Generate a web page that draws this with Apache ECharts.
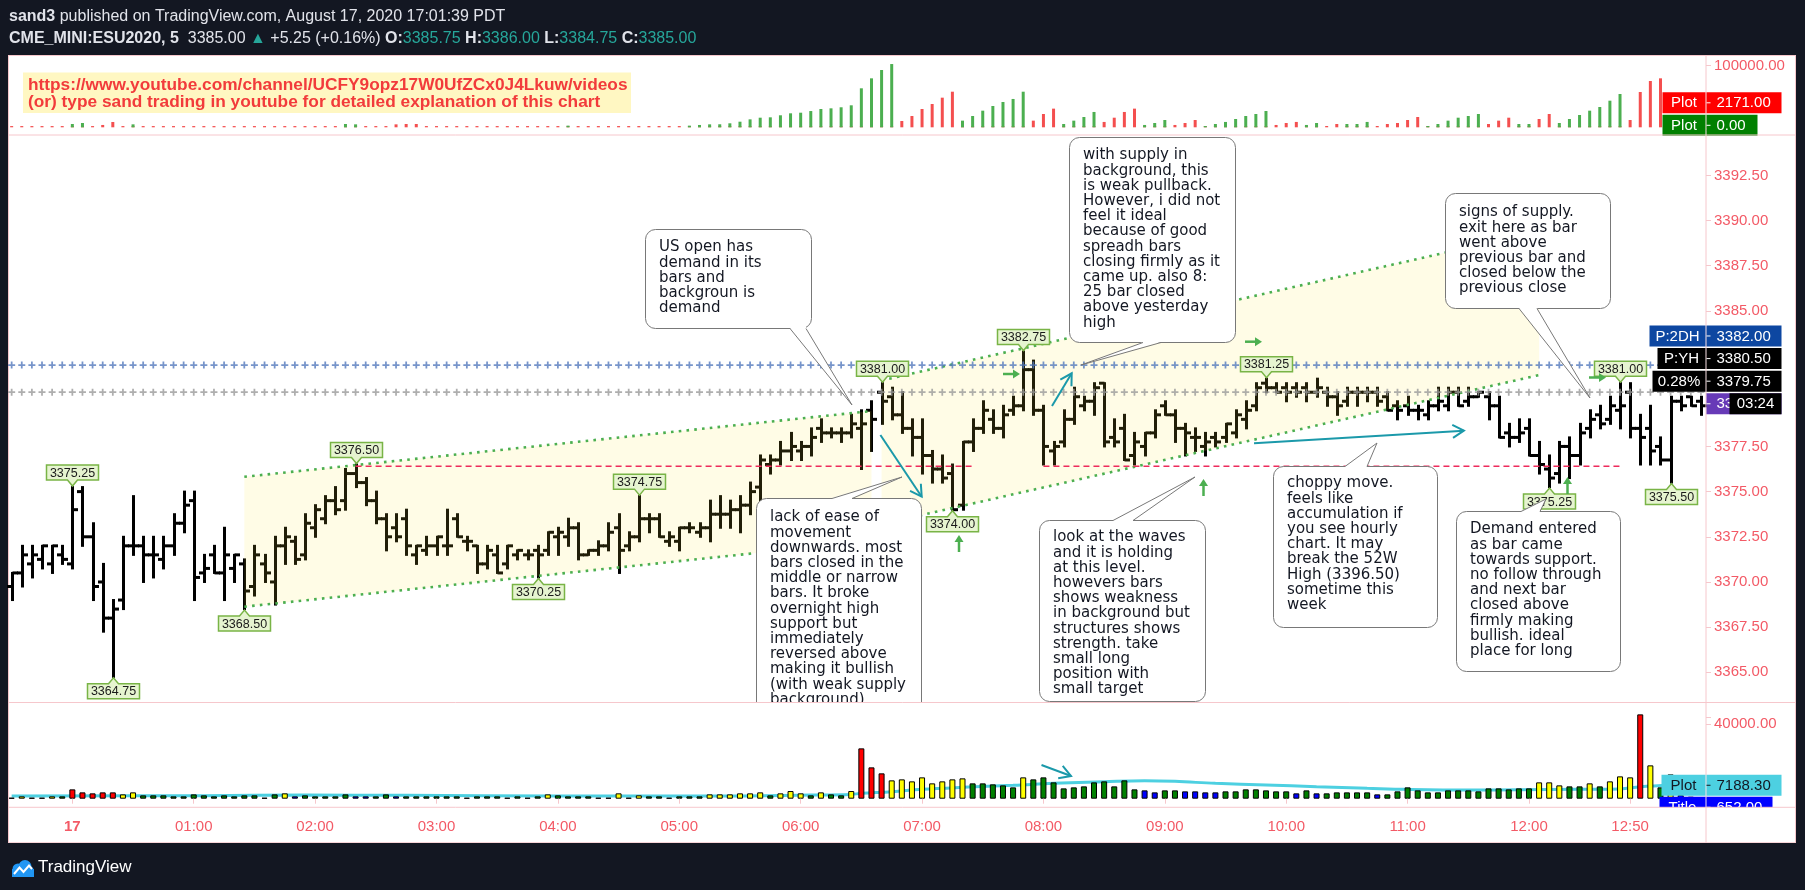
<!DOCTYPE html>
<html><head><meta charset="utf-8">
<script src="https://cdn.jsdelivr.net/npm/echarts@6/dist/echarts.min.js"></script>
<style>
html,body{margin:0;padding:0;background:#131722;overflow:hidden;}
#frame{position:absolute;left:8px;top:55px;width:1788px;height:788px;background:#fff;border:1px solid #f6c7cc;box-sizing:border-box;}
#c{position:absolute;left:0;top:0;width:1805px;height:890px;}
</style></head><body><div id="frame"></div><div id="c"></div>
<script>
// ---------------- DATA ----------------
const times = [
"23:30","23:35","23:40","23:45","23:50","23:55",
"00:00","00:05","00:10","00:15","00:20","00:25","00:30","00:35","00:40","00:45","00:50","00:55",
"01:00","01:05","01:10","01:15","01:20","01:25","01:30","01:35","01:40","01:45","01:50","01:55",
"02:00","02:05","02:10","02:15","02:20","02:25","02:30","02:35","02:40","02:45","02:50","02:55",
"03:00","03:05","03:10","03:15","03:20","03:25","03:30","03:35","03:40","03:45","03:50","03:55",
"04:00","04:05","04:10","04:15","04:20","04:25","04:30","04:35","04:40","04:45","04:50","04:55",
"05:00","05:05","05:10","05:15","05:20","05:25","05:30","05:35","05:40","05:45","05:50","05:55",
"06:00","06:05","06:10","06:15","06:20","06:25","06:30","06:35","06:40","06:45","06:50","06:55",
"07:00","07:05","07:10","07:15","07:20","07:25","07:30","07:35","07:40","07:45","07:50","07:55",
"08:00","08:05","08:10","08:15","08:20","08:25","08:30","08:35","08:40","08:45","08:50","08:55",
"09:00","09:05","09:10","09:15","09:20","09:25","09:30","09:35","09:40","09:45","09:50","09:55",
"10:00","10:05","10:10","10:15","10:20","10:25","10:30","10:35","10:40","10:45","10:50","10:55",
"11:00","11:05","11:10","11:15","11:20","11:25","11:30","11:35","11:40","11:45","11:50","11:55",
"12:00","12:05","12:10","12:15","12:20","12:25","12:30","12:35","12:40","12:45","12:50","12:55",
"13:00","13:05","13:10","13:15","13:20","13:25"];

const opens = [
3369.75,3370.5,3371.0,3371.25,3371.0,3371.5,3371.0,3375.0,3372.5,3370.0,
3368.0,3369.0,3372.0,3372.0,3371.5,3371.25,3372.0,3373.25,3374.5,3370.5,
3371.5,3370.5,3370.75,3371.0,3369.75,3371.0,3370.0,3372.0,3372.25,3371.5,
3373.0,3373.5,3374.5,3374.5,3376.0,3375.5,3374.5,3373.5,3373.0,3373.5,
3371.5,3371.75,3372.0,3372.0,3373.5,3372.25,3372.0,3371.0,3371.5,3371.0,
3371.5,3371.5,3371.75,3371.75,3372.5,3372.5,3373.0,3371.5,3371.75,3372.0,
3373.0,3372.0,3372.5,3373.5,3373.5,3372.25,3372.25,3373.0,3372.75,3373.0,
3373.75,3373.75,3374.0,3374.25,3375.25,3376.5,3376.75,3377.25,3377.25,3377.5,
3378.5,3378.25,3378.25,3378.25,3378.5,3379.5,3380.5,3380.25,3379.25,3378.5,
3378.0,3377.0,3376.25,3376.0,3374.25,3377.75,3378.5,3379.0,3378.5,3379.5,
3379.75,3381.75,3379.5,3377.25,3377.75,3379.0,3379.75,3380.0,3381.0,3378.0,
3378.5,3377.0,3377.5,3378.25,3379.75,3379.25,3378.5,3378.0,3377.5,3378.0,
3378.0,3378.25,3379.0,3379.75,3381.0,3380.75,3380.75,3380.75,3380.75,3380.5,
3380.5,3380.25,3380.0,3380.5,3380.5,3380.5,3380.25,3379.75,3379.75,3379.5,
3379.25,3379.75,3379.75,3380.5,3380.0,3380.25,3380.25,3379.75,3378.25,3378.0,
3378.5,3377.0,3376.25,3376.0,3377.5,3377.0,3378.5,3379.25,3379.0,3379.5,
3380.5,3378.5,3378.5,3377.5,3376.75,3380.0,3380.25,3380.0];

const highs = [
3370.5,3372.0,3372.0,3372.0,3372.0,3372.0,3375.25,3375.25,3373.25,3371.0,
3369.0,3372.5,3374.75,3372.5,3372.5,3372.5,3373.75,3375.0,3375.0,3371.5,
3372.0,3373.0,3371.5,3371.25,3372.0,3371.5,3372.5,3373.0,3372.5,3373.75,
3374.25,3374.75,3375.25,3376.25,3376.5,3375.75,3375.0,3373.75,3373.75,3374.0,
3372.0,3372.5,3372.5,3374.0,3373.75,3372.5,3372.0,3372.0,3372.0,3372.0,
3371.75,3371.75,3372.0,3372.75,3373.0,3373.5,3373.25,3371.75,3372.25,3373.25,
3373.75,3372.75,3374.75,3373.75,3373.75,3372.75,3373.0,3373.25,3373.25,3374.5,
3374.75,3374.5,3374.75,3375.5,3377.0,3377.0,3377.75,3378.25,3377.75,3378.5,
3379.0,3378.5,3378.5,3379.25,3379.5,3380.0,3381.0,3380.75,3380.5,3379.0,
3379.0,3377.25,3377.0,3376.5,3377.75,3379.0,3380.0,3379.5,3379.75,3380.25,
3382.75,3382.25,3379.75,3377.75,3379.5,3380.75,3380.25,3381.0,3381.0,3379.0,
3379.25,3378.25,3378.25,3379.5,3380.0,3379.5,3378.75,3378.5,3378.25,3378.25,
3378.75,3379.5,3380.0,3381.0,3381.25,3381.0,3381.0,3381.0,3381.0,3381.25,
3380.75,3380.5,3380.75,3380.75,3380.75,3380.75,3380.5,3380.0,3380.25,3379.75,
3380.0,3380.75,3380.75,3380.75,3380.75,3380.5,3380.5,3380.25,3378.75,3379.0,
3379.0,3377.75,3377.0,3377.75,3378.0,3378.75,3379.5,3379.75,3380.25,3381.0,
3381.0,3379.25,3379.75,3378.0,3380.25,3380.25,3380.25,3380.25];

const lows = [
3369.0,3369.75,3370.25,3370.75,3370.5,3371.0,3370.75,3372.0,3369.0,3367.25,
3364.75,3368.5,3371.5,3370.0,3370.25,3370.75,3371.5,3372.75,3369.0,3370.0,
3370.5,3369.0,3370.0,3368.5,3369.25,3370.0,3368.75,3371.0,3371.0,3371.25,
3372.5,3373.25,3373.75,3374.0,3375.25,3374.25,3373.25,3371.75,3372.25,3371.5,
3371.0,3371.5,3371.5,3371.5,3372.5,3371.75,3370.5,3370.75,3370.5,3370.75,
3371.25,3371.25,3370.25,3371.5,3371.5,3372.0,3371.25,3371.5,3371.5,3371.75,
3370.5,3371.75,3372.25,3372.75,3372.5,3372.0,3371.75,3372.75,3372.5,3372.25,
3373.0,3373.0,3372.75,3373.75,3374.25,3376.0,3376.5,3376.75,3376.75,3377.0,
3377.75,3378.0,3377.75,3378.0,3376.25,3377.25,3378.75,3379.0,3378.25,3377.0,
3376.0,3375.5,3375.5,3374.0,3374.0,3377.25,3378.25,3378.25,3378.0,3379.25,
3379.5,3379.25,3376.5,3376.5,3377.5,3378.75,3379.5,3379.25,3377.5,3377.5,
3376.75,3376.5,3377.0,3378.0,3379.25,3377.75,3377.0,3377.25,3377.0,3377.5,
3377.75,3378.0,3378.5,3379.5,3380.5,3380.5,3380.0,3380.25,3380.0,3380.25,
3379.75,3379.25,3379.75,3379.75,3380.0,3379.75,3379.5,3379.0,3379.25,3379.0,
3379.0,3379.5,3379.5,3379.75,3379.75,3380.25,3379.0,3378.0,3377.5,3377.75,
3377.0,3376.0,3375.25,3375.5,3375.75,3376.5,3378.0,3378.5,3378.75,3378.5,
3378.0,3376.5,3376.5,3376.5,3375.5,3379.5,3379.75,3379.25];

const closes = [
3370.5,3371.5,3371.5,3372.0,3372.0,3371.25,3374.0,3372.5,3369.75,3368.0,
3368.5,3372.0,3372.0,3371.5,3371.5,3372.0,3373.25,3374.25,3370.25,3370.75,
3370.5,3371.5,3371.5,3369.5,3371.5,3370.5,3372.0,3372.5,3371.25,3373.25,
3374.0,3374.5,3374.0,3376.0,3375.5,3374.5,3373.5,3372.5,3372.5,3372.0,
3372.0,3372.0,3372.5,3372.0,3372.5,3372.25,3371.0,3371.75,3370.5,3372.0,
3371.75,3371.5,3371.5,3372.75,3372.75,3373.0,3371.5,3371.75,3372.0,3372.75,
3371.75,3372.5,3373.5,3373.5,3372.5,3372.5,3373.0,3373.0,3373.0,3373.75,
3373.75,3374.0,3374.25,3375.0,3376.75,3376.75,3377.25,3377.5,3377.5,3378.0,
3378.25,3378.25,3378.25,3378.75,3378.75,3379.0,3380.0,3379.25,3378.5,3378.0,
3377.0,3376.25,3375.75,3374.0,3377.75,3378.5,3379.5,3378.5,3379.25,3379.75,
3381.75,3379.5,3377.5,3377.5,3379.0,3380.25,3380.0,3380.75,3377.75,3377.75,
3376.75,3377.75,3378.25,3379.25,3379.25,3378.5,3378.25,3378.0,3377.75,3377.75,
3378.75,3379.25,3379.5,3380.75,3380.75,3380.5,3380.5,3380.5,3380.5,3380.75,
3380.25,3379.75,3380.5,3380.5,3380.5,3380.0,3379.5,3379.5,3379.5,3379.5,
3379.75,3380.0,3380.5,3379.75,3380.25,3380.5,3379.75,3378.0,3378.0,3378.25,
3377.0,3376.5,3375.75,3377.5,3377.0,3378.25,3379.0,3378.75,3379.75,3379.75,
3378.5,3378.0,3377.25,3376.75,3380.0,3379.75,3379.75,3379.75];

const volumes = [
500,1250,500,500,1250,1250,5000,3390,2860,3390,
3390,2320,3390,1790,1790,1790,1250,1250,2320,1790,
1250,1790,1250,1790,1790,500,2320,2860,1250,1790,
1250,1250,1250,2320,1250,1250,1250,2320,1250,1250,
1250,1250,1250,1250,1250,500,1250,1250,1250,500,
1250,500,1250,2320,1790,1250,1250,1250,500,500,
2860,500,1790,1250,1250,500,1250,1250,1250,2320,
2320,2320,2860,2860,3390,1790,2860,4100,2860,1790,
3390,2320,1790,4100,26950,16780,13570,9820,10350,9280,
11420,8210,9280,10350,10890,8210,8210,7680,7140,6070,
11420,10350,11420,8750,5530,6070,6600,8750,9280,6600,
9820,5000,4460,3390,4460,4460,3930,3930,3390,3390,
3930,3930,5000,5000,4460,3930,3930,2860,4460,2860,
2860,3390,3390,3390,3390,2320,2320,3930,6070,4460,
3390,3390,4460,4460,4460,3930,5530,5530,5000,5530,
5530,8750,8750,7140,6600,6600,8210,6600,9280,11960,
11420,45160,17850,6070,13030,1960,1070,652];

const volumeColorCodes = [
"G","Y","G","G","Y","G","R","R","R","R",
"R","Y","Y","G","G","G","G","G","G","G",
"G","G","G","G","G","G","G","Y","B","G",
"G","G","G","G","B","B","G","G","B","G",
"G","G","G","G","G","G","G","G","G","G",
"G","G","G","Y","G","G","G","G","G","G",
"Y","G","Y","G","G","G","G","G","G","Y",
"Y","Y","Y","Y","Y","G","Y","Y","Y","G",
"Y","G","G","Y","R","R","R","Y","Y","Y",
"Y","Y","Y","Y","Y","G","G","G","G","G",
"Y","G","G","G","G","G","G","G","G","G",
"G","G","B","B","G","G","B","B","B","B",
"G","G","G","G","G","G","G","B","G","B",
"G","G","G","G","G","B","G","G","G","G",
"G","G","G","G","G","G","G","G","G","G",
"G","Y","Y","Y","G","G","Y","G","Y","Y",
"Y","R","Y","G","Y","B","B","B"];

// volume moving-average plot, read at points along the line: [bar index, value]
const volumeAvgPoints = [
[0,1500],[19,1600],[29,1950],[39,1800],[54,1500],[69,1500],[79,1950],[83,2300],[84,2860],
[87,3750],[90,5000],[94,6070],[99,7140],[103,8210],[108,9100],[112,9640],[115,9300],
[119,8210],[124,7320],[129,6430],[134,5600],[138,5000],[144,4640],[149,4800],[155,5000],
[159,5200],[161,6400],[164,7188.3]];

// top indicator panel: green plot and red plot
const topGreen = [
0,0,0,0,0,0,5360,7000,0,0,
0,0,4800,0,0,0,0,0,0,0,
0,0,0,0,0,0,0,0,0,0,
0,0,0,5360,4800,0,0,0,0,0,
0,0,0,0,0,0,0,0,0,0,
0,0,0,0,0,2700,0,0,0,0,
0,0,0,0,0,0,0,2700,3790,4800,
4900,6490,9100,12900,15600,16200,19500,22700,23700,26400,
29700,30800,32500,35700,63300,79500,93000,102700,0,0,
0,0,0,0,10800,18300,27000,34600,41100,46000,
57800,0,0,0,5400,10800,16700,24900,0,0,
0,0,3800,7000,11900,0,0,0,2100,5400,
8700,13500,18300,21600,26500,0,0,0,3800,7000,
0,0,5400,5400,8700,0,0,0,0,0,
2100,5400,10800,15600,18300,21600,0,0,0,5400,
5400,0,0,7000,13500,20000,27000,33000,43200,54100,
0,0,0,0,0,0,0,0];

const topRed = [
2000,2000,2000,2000,2000,2000,2000,2000,2000,3790,
8600,2000,2000,2000,2000,2000,2000,2000,2000,2000,
2000,2000,2000,2000,2000,2000,2000,2000,2000,2000,
2000,2000,2000,2000,2000,2000,2000,2000,4800,5360,
5360,2000,2000,2000,2000,2000,2000,2000,2000,2000,
2000,2000,2000,2000,2000,2000,2000,2000,2000,2000,
2000,2000,2000,2000,2000,2000,2000,2000,2000,2000,
2000,2000,2000,2000,2000,2000,2000,2000,2000,2000,
2000,2000,2000,2000,2000,2000,2000,2000,10200,18300,
29700,37800,48100,57800,2000,2000,2000,2000,2000,2000,
2000,10800,21600,30300,2000,2000,2000,2000,8700,15600,
24900,30300,2000,2000,2000,3800,7000,11900,2000,2000,
2000,2000,2000,2000,2000,3800,7000,8700,2000,2000,
2100,5400,2000,2000,2000,2100,5400,7000,11900,16700,
2000,2000,2000,2000,2000,2000,5400,10800,15600,2000,
2000,13500,21600,2000,2000,2000,2000,2000,2000,2000,
11900,57300,75200,79500,2000,2000,2000,2171];

// pivot labels: [bar index, price, +1 above high / -1 below low]
const pivots = [
[6,3375.25,1],[10,3364.75,-1],[23,3368.50,-1],[34,3376.50,1],[52,3370.25,-1],
[62,3374.75,1],[86,3381.00,1],[93,3374.00,-1],[100,3382.75,1],[124,3381.25,1],
[152,3375.25,-1],[159,3381.00,1],[164,3375.50,-1]];

// parallel channels: [startIdx, upperStart, lowerStart, endIdx, upperEnd, lowerEnd]
const channel1 = [23, 3375.82, 3368.63, 85, 3379.46, 3372.27];
const channel2 = [86, 3381.15, 3373.20, 151, 3389.40, 3381.45];

// horizontal levels
const level2DH = 3382.00;
const levelYH = 3380.50;
const lastPrice = 3379.75;
const redLine1 = [[34, 3376.4], [95, 3376.4]];
const redLine2 = [[102, 3376.4], [159, 3376.4]];
const yAxisTicks = ["3392.50","3390.00","3387.50","3385.00","3382.50","3380.00","3377.50","3375.00","3372.50","3370.00","3367.50","3365.00"];

// ---------------- CHART ----------------
const AX_RED = '#f35a66';
const PINK = '#f6c7cc';
const TEAL = '#1b99aa';
const GREEN_ARROW = '#4caf50';
const colorMap = {G:'#008000', Y:'#ffff00', R:'#ff0000', B:'#0000ff'};

const chart = echarts.init(document.getElementById('c'), null, {width:1805, height:890});

const ohlcData = times.map((t, i) => [i, opens[i], highs[i], lows[i], closes[i]]);
const volData = volumes.map((v, i) => ({value: v, itemStyle: {color: colorMap[volumeColorCodes[i]], borderColor: '#000', borderWidth: 1}}));

function renderOHLC(params, api) {
  const i = api.value(0);
  const pO = api.coord([i, api.value(1)]);
  const pH = api.coord([i, api.value(2)]);
  const pL = api.coord([i, api.value(3)]);
  const pC = api.coord([i, api.value(4)]);
  const x = Math.round(pH[0]) + 0.5;
  const st = {stroke: '#000', lineWidth: 3};
  return {type: 'group', children: [
    {type: 'line', shape: {x1: x, y1: pH[1] - 1, x2: x, y2: pL[1] + 1}, style: st},
    {type: 'line', shape: {x1: x - 5.5, y1: pO[1], x2: x, y2: pO[1]}, style: st},
    {type: 'line', shape: {x1: x, y1: pC[1], x2: x + 5.5, y2: pC[1]}, style: st}
  ]};
}

function renderChannel(params, api) {
  const a = api.coord([api.value(0), api.value(1)]);
  const b = api.coord([api.value(0), api.value(2)]);
  const c = api.coord([api.value(3), api.value(4)]);
  const d = api.coord([api.value(3), api.value(5)]);
  const dot = {stroke: '#4caf50', lineWidth: 2.6, lineDash: [2.6, 5.2], fill: null};
  return {type: 'group', children: [
    {type: 'polygon', shape: {points: [a, c, d, b]}, style: {fill: 'rgba(255,235,59,0.13)'}},
    {type: 'line', shape: {x1: a[0], y1: a[1], x2: c[0], y2: c[1]}, style: dot},
    {type: 'line', shape: {x1: b[0], y1: b[1], x2: d[0], y2: d[1]}, style: dot}
  ]};
}

function renderPivot(params, api) {
  const p = api.value(1), dir = api.value(2);
  const pt = api.coord([api.value(0), p]);
  const x = Math.round(pt[0]) + 0.5, y = pt[1];
  const w = 52, h = 15, t = 6;
  let pts, boxY;
  if (dir > 0) {
    const tip = y - 1, base = tip - t; boxY = base - h;
    pts = [[x - w/2, boxY], [x + w/2, boxY], [x + w/2, base], [x + 5, base], [x, tip], [x - 5, base], [x - w/2, base]];
  } else {
    const tip = y + 1, base = tip + t; boxY = base;
    pts = [[x - w/2, base], [x - 5, base], [x, tip], [x + 5, base], [x + w/2, base], [x + w/2, base + h], [x - w/2, base + h]];
  }
  return {type: 'group', children: [
    {type: 'polygon', shape: {points: pts}, style: {fill: '#e6f4d0', stroke: '#79b446', lineWidth: 1.5}},
    {type: 'text', x: x, y: boxY + h/2 + 0.5, style: {text: p.toFixed(2), fill: '#1a1a1a', font: '12.5px "Liberation Sans"', textAlign: 'center', textVerticalAlign: 'middle', align: 'center', verticalAlign: 'middle'}}
  ]};
}

const showTime = (i, v) => v.slice(3) === '00' || v === '12:50';
const fmtTime = v => v === '00:00' ? '{b|17}' : v;

const xBase = {type: 'category', data: times, boundaryGap: true};
const yLabel = {color: AX_RED, fontSize: 15, fontFamily: 'Liberation Sans', margin: 8};

const option = {
  animation: false,
  backgroundColor: 'transparent',
  grid: [
    {left: 6.6, right: 99, top: 65.7, height: 61.6},
    {left: 6.6, right: 99, top: 130.2, height: 587.3},
    {left: 6.6, right: 99, top: 724, height: 74.7}
  ],
  xAxis: [
    Object.assign({}, xBase, {gridIndex: 0, show: false}),
    Object.assign({}, xBase, {gridIndex: 1, show: false}),
    Object.assign({}, xBase, {gridIndex: 2, z: 50, offset: 8.6,
      axisLine: {show: false},
      axisTick: {show: true, interval: showTime, alignWithLabel: true, length: 5, lineStyle: {color: PINK}},
      axisLabel: {interval: showTime, formatter: fmtTime, margin: 12, color: AX_RED, fontSize: 15, fontFamily: 'Liberation Sans',
        rich: {b: {fontWeight: 'bold', fontSize: 15, fontFamily: 'Liberation Sans', color: AX_RED}}},
      splitLine: {show: false}})
  ],
  yAxis: [
    {type: 'value', gridIndex: 0, position: 'right', min: 0, max: 100000, interval: 100000, z: 30,
      axisLine: {show: false}, splitLine: {show: false}, axisTick: {show: true, length: 5, lineStyle: {color: PINK}},
      axisLabel: Object.assign({}, yLabel, {formatter: v => v === 100000 ? '100000.00' : ''})},
    {type: 'value', gridIndex: 1, position: 'right', min: 3362.5, max: 3395, interval: 2.5, z: 30,
      axisLine: {show: false}, splitLine: {show: false}, axisTick: {show: true, length: 5, lineStyle: {color: PINK}},
      axisLabel: Object.assign({}, yLabel, {formatter: v => yAxisTicks.indexOf(v.toFixed(2)) >= 0 ? v.toFixed(2) : ''})},
    {type: 'value', gridIndex: 2, position: 'right', min: 0, max: 40000, interval: 40000, z: 30,
      axisLine: {show: false}, splitLine: {show: false}, axisTick: {show: true, length: 5, lineStyle: {color: PINK}},
      axisLabel: Object.assign({}, yLabel, {formatter: v => v === 40000 ? '40000.00' : ''})}
  ],
  series: [
    {type: 'bar', xAxisIndex: 0, yAxisIndex: 0, data: topRed, barWidth: 3, barGap: '-100%', clip: false, silent: true, z: 2, itemStyle: {color: '#f44f4f'}},
    {type: 'bar', xAxisIndex: 0, yAxisIndex: 0, data: topGreen, barWidth: 3, barGap: '-100%', clip: false, silent: true, z: 2, itemStyle: {color: '#4caf50'}},
    {type: 'custom', xAxisIndex: 1, yAxisIndex: 1, data: ohlcData, renderItem: renderOHLC, encode: {x: 0, y: [1, 2, 3, 4]}, silent: true, z: 2},
    {type: 'custom', xAxisIndex: 1, yAxisIndex: 1, data: [channel1, channel2], renderItem: renderChannel, encode: {x: [0, 3], y: [1, 2, 4, 5]}, silent: true, z: 3},
    {type: 'scatter', xAxisIndex: 1, yAxisIndex: 1, data: times.map((t, i) => [i, level2DH]), symbol: 'path://M3,0H5V3H8V5H5V8H3V5H0V3H3Z', symbolSize: 7, silent: true, z: 4, itemStyle: {color: '#5479bd'}},
    {type: 'scatter', xAxisIndex: 1, yAxisIndex: 1, data: times.map((t, i) => [i, levelYH]), symbol: 'path://M3,0H5V3H8V5H5V8H3V5H0V3H3Z', symbolSize: 7, silent: true, z: 4, itemStyle: {color: '#9a9a9a'}},
    {type: 'line', xAxisIndex: 1, yAxisIndex: 1, data: redLine1, symbol: 'none', silent: true, z: 4, lineStyle: {color: '#ee2b5c', width: 1.5, type: [6, 4]}},
    {type: 'line', xAxisIndex: 1, yAxisIndex: 1, data: redLine2, symbol: 'none', silent: true, z: 4, lineStyle: {color: '#ee2b5c', width: 1.5, type: [6, 4]}},
    {type: 'custom', xAxisIndex: 1, yAxisIndex: 1, data: pivots, renderItem: renderPivot, encode: {x: 0, y: 1}, silent: true, z: 6},
    {type: 'line', xAxisIndex: 2, yAxisIndex: 2, data: volumeAvgPoints, smooth: 0.4, symbol: 'none', silent: true, z: 29, lineStyle: {color: '#4dd0e1', width: 3}},
    {type: 'bar', xAxisIndex: 2, yAxisIndex: 2, data: volData, barWidth: 6, clip: false, silent: true, z: 30}
  ]
};
chart.setOption(option);

// ---------------- ANNOTATIONS / LABELS ----------------
const G = [];
function txt(x, y, text, font, fill, align, vAlign, z) {
  G.push({type: 'text', x: x, y: y, z: z, style: {text: text, font: font, fill: fill, textAlign: align || 'left', textVerticalAlign: vAlign || 'middle', align: align || 'left', verticalAlign: vAlign || 'middle'}});
}
function line(x1, y1, x2, y2, color, w, z) {
  G.push({type: 'line', shape: {x1: x1, y1: y1, x2: x2, y2: y2}, style: {stroke: color, lineWidth: w}, z: z});
}

// header
G.push({type: 'text', x: 9, y: 17, z: 50, style: {
  text: '{b|sand3} published on TradingView.com, August 17, 2020 17:01:39 PDT',
  fontSize: 16, fontFamily: 'Liberation Sans', fill: '#e1e3ea', textVerticalAlign: 'middle', verticalAlign: 'middle',
  rich: {b: {fontWeight: 'bold', fontSize: 16, fontFamily: 'Liberation Sans', fill: '#e1e3ea', color: '#e1e3ea'}}}});
G.push({type: 'text', x: 9, y: 39, z: 50, style: {
  text: '{b|CME_MINI:ESU2020, 5}  3385.00 {g|▲} +5.25 (+0.16%) {b|O:}{g|3385.75} {b|H:}{g|3386.00} {b|L:}{g|3384.75} {b|C:}{g|3385.00}',
  fontSize: 16, fontFamily: 'Liberation Sans', fill: '#e1e3ea', textVerticalAlign: 'middle', verticalAlign: 'middle',
  rich: {b: {fontWeight: 'bold', fontSize: 16, fontFamily: 'Liberation Sans', fill: '#e1e3ea', color: '#e1e3ea'},
         g: {fontSize: 16, fontFamily: 'Liberation Sans', fill: '#26a69a', color: '#26a69a'}}}});

// footer logo (cloud shape from circles) + name
G.push({type: 'rect', z: 50, shape: {x: 12, y: 869, width: 22, height: 8}, style: {fill: '#2196f3'}});
G.push({type: 'circle', z: 50, shape: {cx: 18, cy: 869, r: 5.5}, style: {fill: '#2196f3'}});
G.push({type: 'circle', z: 50, shape: {cx: 25, cy: 866.5, r: 6.5}, style: {fill: '#2196f3'}});
G.push({type: 'circle', z: 50, shape: {cx: 29.5, cy: 871, r: 4.5}, style: {fill: '#2196f3'}});
G.push({type: 'polyline', z: 51, shape: {points: [[14, 874], [19.5, 867.5], [23.5, 872], [29, 865.5], [32, 869]]}, style: {stroke: '#fff', lineWidth: 2, fill: null}});
txt(38, 867, 'TradingView', '17px "Liberation Sans"', '#ffffff', 'left', 'middle', 50);

// link box in top panel
G.push({type: 'rect', z: 20, shape: {x: 23, y: 72.5, width: 608, height: 40.5}, style: {fill: '#fff7c2'}});
txt(28, 85, 'https://www.youtube.com/channel/UCFY9opz17W0UfZCx0J4Lkuw/videos', 'bold 17.3px "Liberation Sans"', '#f23b3b', 'left', 'middle', 21);
txt(28, 102, '(or) type sand trading in youtube for detailed explanation of this chart', 'bold 17.3px "Liberation Sans"', '#f23b3b', 'left', 'middle', 21);

// callouts
const callouts = [
  {x: 645, y: 229, w: 166, h: 99, off: 11, edge: 'bottom', base: [790, 806], tip: [852, 405],
   lines: ['US open has', 'demand in its', 'bars and', 'backgroun is', 'demand']},
  {x: 1069, y: 137, w: 166, h: 205, off: 11, edge: 'bottom', base: [1143, 1161], tip: [1081, 365],
   lines: ['with supply in', 'background, this', 'is weak pullback.', 'However, i did not', 'feel it ideal', 'because of good', 'spreadh bars', 'closing firmly as it', 'came up. also 8:', '25 bar closed', 'above yesterday', 'high']},
  {x: 1445, y: 193, w: 165, h: 115, off: 12, edge: 'bottom', base: [1519, 1537], tip: [1590, 398],
   lines: ['signs of supply.', 'exit here as bar', 'went above', 'previous bar and', 'closed below the', 'previous close']},
  {x: 756, y: 498, w: 165, h: 240, off: 12, edge: 'top', base: [832, 852], tip: [902, 477],
   lines: ['lack of ease of', 'movement', 'downwards. most', 'bars closed in the', 'middle or narrow', 'bars. It broke', 'overnight high', 'support but', 'immediately', 'reversed above', 'making it bullish', '(with weak supply', 'background)']},
  {x: 1039, y: 520, w: 166, h: 181, off: 10, edge: 'top', base: [1113, 1133], tip: [1195, 477],
   lines: ['look at the waves', 'and it is holding', 'at this level.', 'howevers bars', 'shows weakness', 'in background but', 'structures shows', 'strength. take', 'small long', 'position with', 'small target']},
  {x: 1273, y: 466, w: 164, h: 161, off: 10, edge: 'top', base: [1345, 1367], tip: [1377, 443],
   lines: ['choppy move.', 'feels like', 'accumulation if', 'you see hourly', 'chart. It may', 'break the 52W', 'High (3396.50)', 'sometime this', 'week']},
  {x: 1456, y: 511, w: 164, h: 160, off: 11, edge: 'top', base: [1521, 1540], tip: [1546, 499],
   lines: ['Demand entered', 'as bar came', 'towards support.', 'no follow through', 'and next bar', 'closed above', 'firmly making', 'bullish. ideal', 'place for long']}
];
callouts.forEach(c => {
  const ey = c.edge === 'bottom' ? c.y + c.h : c.y;
  const d = c.edge === 'bottom' ? -2 : 2;
  G.push({type: 'rect', z: 20, shape: {x: c.x + 0.5, y: c.y + 0.5, width: c.w, height: c.h, r: 10}, style: {fill: '#fff', stroke: '#787878', lineWidth: 1}});
  G.push({type: 'polygon', z: 20.1, shape: {points: [[c.base[0], ey + d], [c.base[0], ey], c.tip, [c.base[1], ey], [c.base[1], ey + d]]}, style: {fill: '#fff'}});
  G.push({type: 'polyline', z: 20.2, shape: {points: [[c.base[0], ey + 0.5], c.tip, [c.base[1], ey + 0.5]]}, style: {stroke: '#787878', lineWidth: 1, fill: null}});
  G.push({type: 'text', z: 20.3, x: c.x + 14, y: c.y + c.off, style: {text: c.lines.join('\n'), font: '15px "DejaVu Sans"', fill: '#131722', lineHeight: 15.2, textAlign: 'left', textVerticalAlign: 'top', align: 'left', verticalAlign: 'top'}});
});

// teal arrows
function tealArrow(x1, y1, x2, y2, z) {
  const ang = Math.atan2(y2 - y1, x2 - x1), L = 13, a = Math.PI / 6;
  const h1 = [x2 - L * Math.cos(ang - a), y2 - L * Math.sin(ang - a)];
  const h2 = [x2 - L * Math.cos(ang + a), y2 - L * Math.sin(ang + a)];
  line(x1, y1, x2, y2, TEAL, 2, z);
  G.push({type: 'polyline', z: z, shape: {points: [h1, [x2, y2], h2]}, style: {stroke: TEAL, lineWidth: 2, fill: null}});
}
tealArrow(880.4, 435, 921.7, 496.7, 21);
tealArrow(1052, 406, 1071.7, 373.3, 21);
tealArrow(1254, 443.3, 1463.9, 430.7, 21);
tealArrow(1041.5, 765, 1071, 776, 35);

// green small arrows
function greenRight(x1, x2, y) {
  line(x1, y, x2 - 5, y, GREEN_ARROW, 2.5, 21);
  G.push({type: 'polygon', z: 21, shape: {points: [[x2 - 7, y - 4.5], [x2, y], [x2 - 7, y + 4.5]]}, style: {fill: GREEN_ARROW}});
}
function greenUp(x, y1, y2) {
  line(x, y2, x, y1 + 5, GREEN_ARROW, 2.5, 21);
  G.push({type: 'polygon', z: 21, shape: {points: [[x - 4.5, y1 + 7], [x, y1], [x + 4.5, y1 + 7]]}, style: {fill: GREEN_ARROW}});
}
greenRight(1003, 1020, 374);
greenRight(1245, 1262, 341.7);
greenRight(1589, 1606, 377.5);
greenUp(959, 535, 552);
greenUp(1203.5, 479, 496);
greenUp(1567.5, 477, 494);

// covers & separators
G.push({type: 'rect', z: 25, shape: {x: 9, y: 702.5, width: 1697, height: 105}, style: {fill: '#fff'}});
G.push({type: 'rect', z: 45, shape: {x: 9, y: 807.3, width: 1786, height: 35}, style: {fill: '#fff'}});
line(8.5, 135, 1796, 135, PINK, 1, 46);
line(8.5, 702.5, 1796, 702.5, PINK, 1, 46);
line(8.5, 807.3, 1796, 807.3, PINK, 1, 46);
line(1706, 55, 1706, 807, PINK, 1, 39);
line(1706, 807, 1706, 843, PINK, 1, 46);

// right-hand value tags
function tag(name, nameW, value, valW, cy, bg, fg, z) {
  if (name) {
    G.push({type: 'rect', z: z, shape: {x: 1705.5 - nameW, y: cy - 10.5, width: nameW, height: 21}, style: {fill: bg}});
    txt(1705.5 - nameW / 2, cy + 0.5, name, '15px "Liberation Sans"', fg, 'center', 'middle', z + 0.1);
  }
  G.push({type: 'rect', z: z, shape: {x: 1706.5, y: cy - 10.5, width: valW, height: 21}, style: {fill: bg}});
  txt(1716.5, cy + 0.5, value, '15px "Liberation Sans"', fg, 'left', 'middle', z + 0.1);
  line(1706.5, cy, 1710.5, cy, fg, 1, z + 0.1);
}
const yPrice = v => chart.convertToPixel({yAxisIndex: 1}, v);
const yLast = yPrice(lastPrice) - 2;
tag(null, 0, lastPrice.toFixed(2), 75, yLast, '#673ab7', '#fff', 40);
G.push({type: 'rect', z: 40.5, shape: {x: 1729.5, y: yLast - 10.5, width: 52, height: 21}, style: {fill: '#000'}});
txt(1755.5, yLast + 0.5, '03:24', '15px "Liberation Sans"', '#fff', 'center', 'middle', 40.6);
tag('0.28%', 53, lastPrice.toFixed(2), 75, yLast - 22.6, '#000', '#fff', 40);
tag('P:YH', 48, levelYH.toFixed(2), 75, yLast - 45.2, '#000', '#fff', 40);
tag('P:2DH', 56, level2DH.toFixed(2), 75, yLast - 67.8, '#0d47a1', '#fff', 40);

const yTop0 = chart.convertToPixel({yAxisIndex: 0}, 0);
tag('Plot', 43, (topGreen[topGreen.length - 1]).toFixed(2), 51, yTop0 - 2, '#008000', '#fff', 40);
tag('Plot', 43, (topRed[topRed.length - 1]).toFixed(2), 75, yTop0 - 24.5, '#ff0000', '#fff', 40);

const volAvgLast = volumeAvgPoints[volumeAvgPoints.length - 1][1];
const yVolAvg = chart.convertToPixel({yAxisIndex: 2}, volAvgLast);
tag('Plot', 44, volAvgLast.toFixed(2), 75, yVolAvg, '#4dd0e1', '#131722', 40);
tag('Title', 46, volumes[volumes.length - 1].toFixed(2), 66, yVolAvg + 22, '#0000ff', '#fff', 40);

chart.setOption({graphic: {elements: G}});
</script></body></html>
